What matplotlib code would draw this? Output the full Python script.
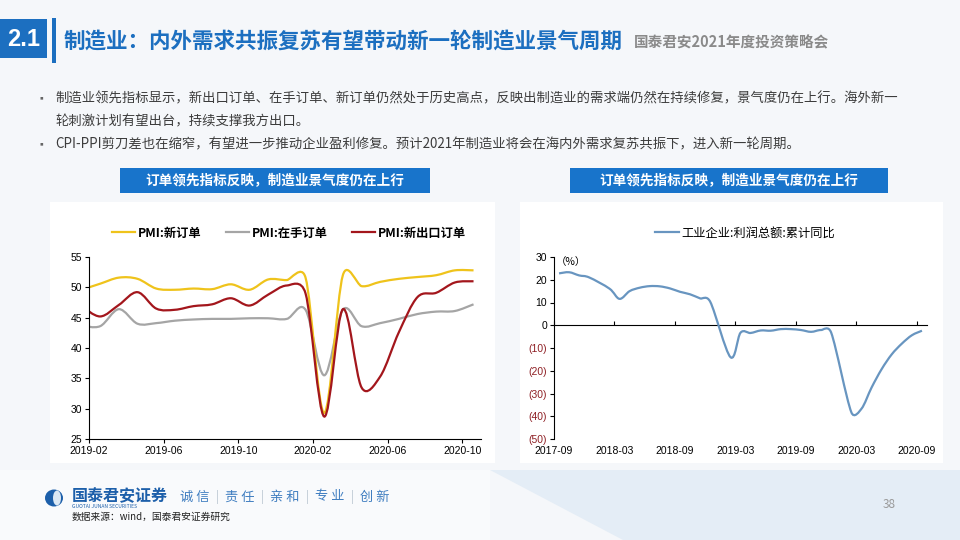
import numpy as np
import matplotlib
matplotlib.use('Agg')
import matplotlib.pyplot as plt
from matplotlib.path import Path
from matplotlib.patches import PathPatch, Rectangle, Polygon, Ellipse
from matplotlib.lines import Line2D

plt.rcParams['font.family'] = ['Noto Sans CJK SC', 'DejaVu Sans']

# ---- data: PMI sub-indices, monthly 2019-01 .. 2020-10
pmi_months = ['2019-01', '2019-02', '2019-03', '2019-04', '2019-05', '2019-06',
              '2019-07', '2019-08', '2019-09', '2019-10', '2019-11', '2019-12',
              '2020-01', '2020-02', '2020-03', '2020-04', '2020-05', '2020-06',
              '2020-07', '2020-08', '2020-09', '2020-10']
pmi_new_orders = [49.6, 50.6, 51.6, 51.4, 49.8, 49.6, 49.8, 49.7, 50.5, 49.6, 51.3, 51.2,
                  51.6, 29.3, 52.0, 50.2, 50.9, 51.4, 51.7, 52.0, 52.8, 52.8]
pmi_backlog = [43.7, 43.6, 46.4, 44.0, 44.1, 44.5, 44.7, 44.8, 44.8, 44.9, 44.9, 44.8,
               46.3, 35.5, 46.3, 43.6, 44.1, 44.8, 45.6, 46.0, 46.1, 47.2]
pmi_export = [46.9, 45.2, 47.1, 49.2, 46.5, 46.3, 46.9, 47.2, 48.2, 47.0, 48.8, 50.3,
              49.0, 28.7, 46.4, 33.5, 35.3, 42.6, 48.4, 49.1, 50.8, 51.0]
pmi_labels = ['PMI:新订单', 'PMI:在手订单', 'PMI:新出口订单']
pmi_ticks = ['2019-02', '2019-06', '2019-10', '2020-02', '2020-06', '2020-10']

# ---- data: industrial profit, cumulative YoY (%)
profit_months = ['2017-09', '2017-10', '2017-11', '2017-12',
                 '2018-02', '2018-03', '2018-04', '2018-05', '2018-06', '2018-07',
                 '2018-08', '2018-09', '2018-10', '2018-11', '2018-12',
                 '2019-02', '2019-03', '2019-04', '2019-05', '2019-06', '2019-07',
                 '2019-08', '2019-09', '2019-10', '2019-11', '2019-12',
                 '2020-02', '2020-03', '2020-04', '2020-05', '2020-06', '2020-07',
                 '2020-08', '2020-09']
profit_yoy = [22.8, 23.3, 21.9, 21.0,
              16.1, 11.6, 15.0, 16.5, 17.2, 17.1, 16.2, 14.7, 13.6, 11.8, 10.3,
              -14.0, -3.3, -3.4, -2.3, -2.4, -1.7, -1.7, -2.1, -2.9, -2.1, -3.3,
              -38.3, -36.7, -27.4, -19.3, -12.8, -8.1, -4.4, -2.4]
profit_label = '工业企业:利润总额:累计同比'
profit_ticks = ['2017-09', '2018-03', '2018-09', '2019-03', '2019-09', '2020-03', '2020-09']

BLUE = '#1C6FC0'


def month_idx(s, base):
    y, m = map(int, s.split('-'))
    by, bm = map(int, base.split('-'))
    return (y - by) * 12 + (m - bm)


def smooth_path(x, y, sx, sy):
    # excel-like smoothed line: bezier segments through the data points,
    # control arms shortened when they are long compared with the segment
    pts = np.column_stack([np.asarray(x) * sx, np.asarray(y) * sy]).astype(float)
    verts = [pts[0]]
    codes = [Path.MOVETO]
    n = len(pts)
    for i in range(n - 1):
        p0 = pts[i - 1] if i > 0 else pts[i]
        p1, p2 = pts[i], pts[i + 1]
        p3 = pts[i + 2] if i + 2 < n else pts[i + 1]
        d1 = (p2 - p0) / 6
        d2 = (p3 - p1) / 6
        seg = np.hypot(*(p2 - p1))
        arms = np.hypot(*d1) + np.hypot(*d2)
        if arms > seg and arms > 0:
            d1 = d1 * seg / arms
            d2 = d2 * seg / arms
        verts += [p1 + d1, p2 - d2, p2]
        codes += [Path.CURVE4] * 3
    verts = np.array(verts) / [sx, sy]
    return Path(verts, codes)


def fx(x):
    return x / 960


def fy(y):
    return 1 - y / 540


def box(x0, y0, x1, y1, color, z=0):
    fig.patches.append(Rectangle((fx(x0), fy(y1)), fx(x1 - x0), (y1 - y0) / 540,
                                 transform=fig.transFigure, facecolor=color,
                                 edgecolor='none', zorder=z))


fig = plt.figure(figsize=(9.6, 5.4), dpi=100)
fig.patch.set_facecolor('#F5F7FA')

# background pieces
fig.patches.append(Polygon([(fx(490), fy(470)), (fx(960), fy(470)), (fx(960), fy(540)), (fx(623), fy(540))],
                           closed=True, transform=fig.transFigure, facecolor='#E4EDF6',
                           edgecolor='none', zorder=0))
box(0, 470, 490, 540, '#F9FAFC')
box(50, 202, 495, 463, 'white')
box(520, 202, 943, 463, 'white')

# header
box(0, 19, 47, 58, BLUE, 1)
box(52, 18, 56, 63, BLUE, 1)
fig.text(fx(24), fy(39), '2.1', color='white', fontsize=17, fontweight='bold',
         ha='center', va='center', family=['Liberation Sans', 'DejaVu Sans'])
fig.text(fx(64), fy(41), '制造业：内外需求共振复苏有望带动新一轮制造业景气周期', color=BLUE,
         fontsize=15.5, fontweight='bold', ha='left', va='center')
fig.text(fx(634), fy(42), '国泰君安2021年度投资策略会', color='#8A8A8A',
         fontsize=10.5, fontweight='bold', ha='left', va='center')

# bullets
txt_color = '#3C3C3C'
fig.text(fx(37), fy(98), '▪', color='#666666', fontsize=7, ha='left', va='center')
fig.text(fx(55), fy(98), '制造业领先指标显示，新出口订单、在手订单、新订单仍然处于历史高点，反映出制造业的需求端仍然在持续修复，景气度仍在上行。海外新一',
         color=txt_color, fontsize=9.6, ha='left', va='center')
fig.text(fx(55), fy(121), '轮刺激计划有望出台，持续支撑我方出口。',
         color=txt_color, fontsize=9.6, ha='left', va='center')
fig.text(fx(37), fy(144), '▪', color='#666666', fontsize=7, ha='left', va='center')
fig.text(fx(55), fy(144), 'CPI-PPI剪刀差也在缩窄，有望进一步推动企业盈利修复。预计2021年制造业将会在海内外需求复苏共振下，进入新一轮周期。',
         color=txt_color, fontsize=9.6, ha='left', va='center')

# banners
for x0, x1 in [(120, 430), (570, 888)]:
    box(x0, 168, x1, 193, '#1874CB', 1)
    fig.text(fx((x0 + x1) / 2), fy(181), '订单领先指标反映，制造业景气度仍在上行', color='white',
             fontsize=9.8, fontweight='bold', ha='center', va='center')

tick_font = dict(family=['Liberation Sans', 'DejaVu Sans'], fontsize=7.5)

# ---- left chart: PMI
ax1 = fig.add_axes([fx(89), fy(439), fx(392), 182 / 540])
ax1.set_zorder(3)
ax1.set_facecolor('none')
ax1.set_xlim(0, 21)
ax1.set_ylim(25, 55)
pmi_x = np.array([month_idx(m, '2019-02') + 0.6 for m in pmi_months])
colors = {'new': '#EFC31B', 'back': '#A5A5A5', 'exp': '#A3161C'}
for vals, c in [(pmi_backlog, colors['back']), (pmi_new_orders, colors['new']), (pmi_export, colors['exp'])]:
    ax1.add_patch(PathPatch(smooth_path(pmi_x, vals, 392 / 21, 182 / 30),
                            fill=False, edgecolor=c, lw=1.6))
ax1.set_xlim(0, 21)
ax1.set_ylim(25, 55)
ax1.set_yticks(range(25, 56, 5))
ax1.set_xticks([month_idx(t, '2019-02') for t in pmi_ticks])
ax1.set_xticklabels(pmi_ticks, **tick_font)
ax1.set_yticklabels([str(v) for v in range(25, 56, 5)], **tick_font)
for s in ['top', 'right']:
    ax1.spines[s].set_visible(False)
for s in ['left', 'bottom']:
    ax1.spines[s].set_linewidth(0.8)
ax1.tick_params(length=3, width=0.8, pad=2)
handles = [Line2D([], [], color=colors['new'], lw=1.6),
           Line2D([], [], color=colors['back'], lw=1.6),
           Line2D([], [], color=colors['exp'], lw=1.6)]
fig.legend(handles, pmi_labels, loc='center', bbox_to_anchor=(fx(289), fy(233)), ncol=3,
           frameon=False, handlelength=1.9, handletextpad=0.2, columnspacing=2.0,
           prop=dict(size=8.8, weight='bold'))

# ---- right chart: industrial profit
ax2 = fig.add_axes([fx(554), fy(439), fx(373), 182 / 540])
ax2.set_zorder(3)
ax2.set_facecolor('none')
profit_x = np.array([month_idx(m, '2017-09') + 0.5 for m in profit_months])
ax2.add_patch(PathPatch(smooth_path(profit_x, profit_yoy, 373 / 37, 182 / 80),
                        fill=False, edgecolor='#6895C0', lw=1.6))
ax2.set_xlim(0, 37)
ax2.set_ylim(-50, 30)
yt = list(range(-50, 31, 10))
ax2.set_yticks(yt)
ax2.set_yticklabels([f'({-v})' if v < 0 else str(v) for v in yt], **tick_font)
for lab, v in zip(ax2.get_yticklabels(), yt):
    if v < 0:
        lab.set_color('#8E1F24')
xt = [month_idx(t, '2017-09') for t in profit_ticks]
ax2.set_xticks(xt)
ax2.set_xticklabels(profit_ticks, **tick_font)
for s in ['top', 'right', 'bottom']:
    ax2.spines[s].set_visible(False)
ax2.spines['left'].set_linewidth(0.8)
ax2.tick_params(axis='y', length=3, width=0.8, pad=2)
ax2.tick_params(axis='x', length=0, pad=5)
zero_axis = ax2.secondary_xaxis(50 / 80)
zero_axis.set_xticks(xt)
zero_axis.set_xticklabels([])
zero_axis.tick_params(length=3, width=0.8)
zero_axis.spines['bottom'].set_linewidth(0.8)
ax2.text(0.005, 0.975, '（%）', transform=ax2.transAxes, fontsize=7.5, ha='left', va='center')
fig.legend([Line2D([], [], color='#6895C0', lw=1.6)], [profit_label], loc='center',
           bbox_to_anchor=(fx(745), fy(233)), frameon=False, handlelength=1.9,
           handletextpad=0.2, prop=dict(size=8.8))

# ---- footer
fig.patches.append(Ellipse((fx(54), fy(498)), 18 / 960, 17 / 540, transform=fig.transFigure,
                           facecolor='#1D5FAA', edgecolor='none'))
fig.patches.append(Ellipse((fx(57), fy(498)), 8 / 960, 15 / 540, transform=fig.transFigure,
                           facecolor='#DCE8F4', edgecolor='none'))
fig.text(fx(72), fy(496), '国泰君安证券', color='#1D5FAA', fontsize=11.5, fontweight='bold',
         ha='left', va='center')
fig.text(fx(72), fy(507), 'GUOTAI JUNAN SECURITIES', color='#1D5FAA', fontsize=3.6,
         ha='left', va='center')
slogan = ['诚 信', '责 任', '亲 和', '专 业', '创 新']
for i, w in enumerate(slogan):
    fig.text(fx(195 + i * 45), fy(497), w, color='#3F7DC0', fontsize=9.5, ha='center', va='center')
    if i < len(slogan) - 1:
        fig.text(fx(217 + i * 45), fy(497), '|', color='#B8C4D0', fontsize=9, ha='center', va='center')
fig.text(fx(72), fy(517), '数据来源：wind，国泰君安证券研究', color='#222222', fontsize=7,
         ha='left', va='center')
fig.text(fx(889), fy(505), '38', color='#9A9A9A', fontsize=8.5, ha='center', va='center')

fig.savefig('out.png', dpi=100, facecolor=fig.get_facecolor())
